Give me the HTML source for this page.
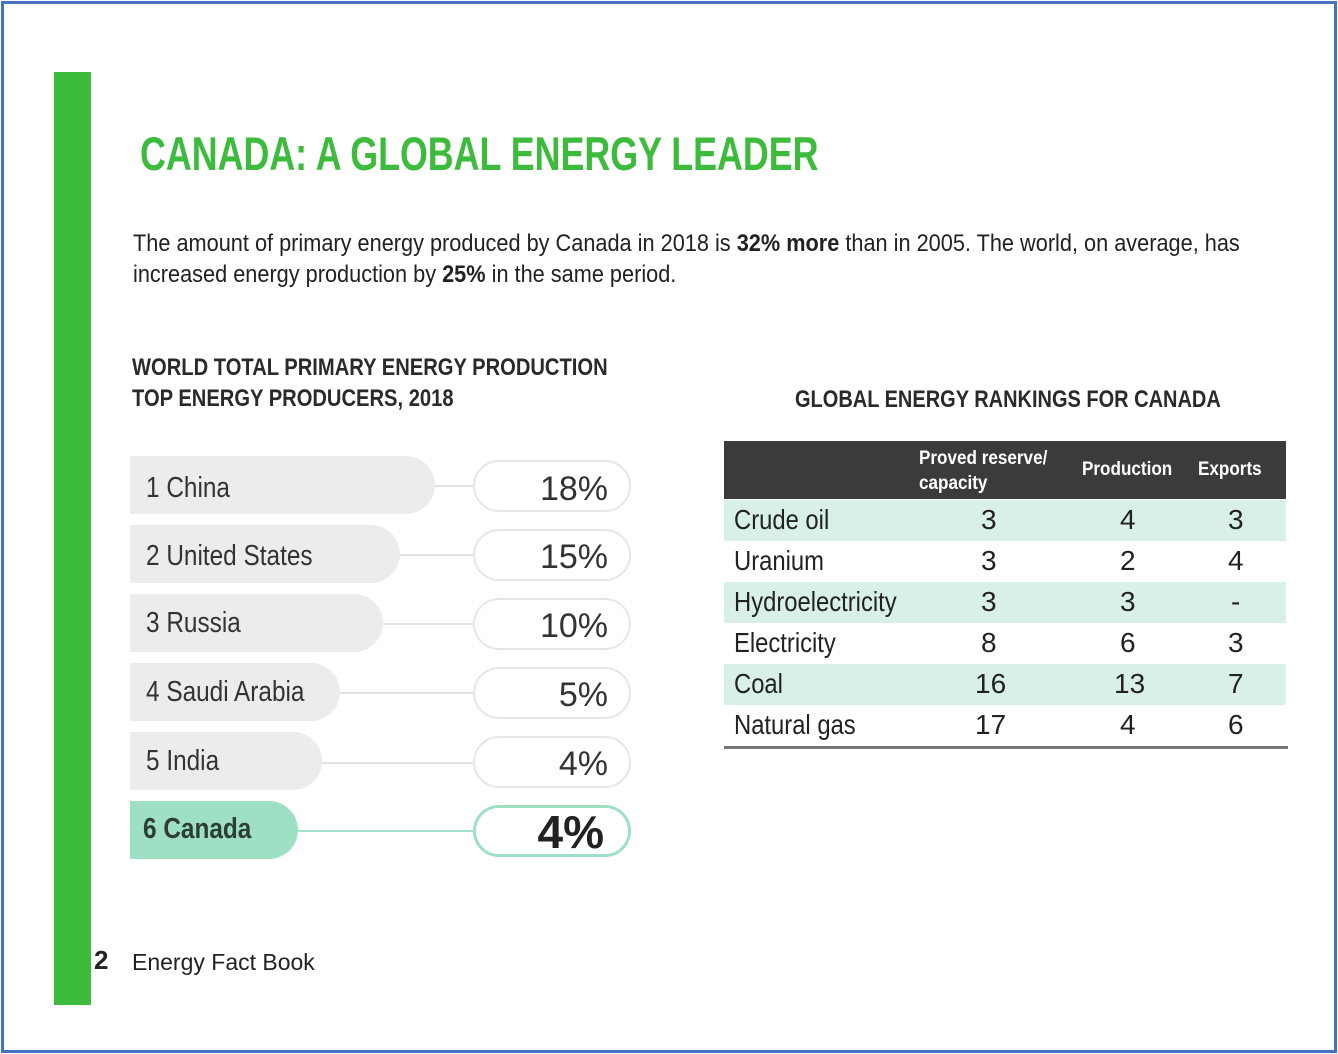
<!DOCTYPE html>
<html><head><style>
body{margin:0;width:1338px;height:1054px;background:#fff;position:relative;overflow:hidden;font-family:"Liberation Sans",sans-serif;color:#333}
.a{position:absolute;white-space:nowrap}
.n{transform:scaleX(0.9);transform-origin:0 0}
.frame{position:absolute;left:1px;top:1px;width:1330px;height:1046px;border:3px solid #4472c4}
.lp{position:absolute;left:130px;height:58px;background:#ececec;border-radius:0 29px 29px 0}
.rp{position:absolute;left:473px;width:154px;height:48px;border:2px solid #e6e6e6;border-radius:26px;background:#fff}
.ln{position:absolute;height:2px;background:#e2e2e2}
.lt{position:absolute;left:146px;font-size:29px;color:#333;white-space:nowrap;transform:scaleX(0.84);transform-origin:0 0}
.pc{position:absolute;right:730px;font-size:34px;color:#333}
.tr{position:absolute;left:724px;width:562px;height:41px}
.tr span{position:absolute;top:4px;font-size:28px;color:#222}
.tr span:first-child{transform:scaleX(0.85);transform-origin:0 0;white-space:nowrap}
</style></head><body>
<div class="frame"></div>
<div class="a" style="left:54px;top:72px;width:37px;height:933px;background:#3cbb3c"></div>
<div class="a" style="left:140px;top:126px;font-size:47px;font-weight:bold;color:#3cbb3c;transform:scaleX(0.762);transform-origin:0 0">CANADA: A GLOBAL ENERGY LEADER</div>
<div class="a" style="left:133px;top:228px;font-size:24px;line-height:31px;color:#222;transform:scaleX(0.905);transform-origin:0 0">The amount of primary energy produced by Canada in 2018 is <b>32% more</b> than in 2005. The world, on average, has<br>increased energy production by <b>25%</b> in the same period.</div>
<div class="a" style="left:132px;top:352px;font-size:24px;font-weight:bold;line-height:31px;color:#2a2a2a;transform:scaleX(0.84);transform-origin:0 0">WORLD TOTAL PRIMARY ENERGY PRODUCTION<br>TOP ENERGY PRODUCERS, 2018</div>
<div class="a" style="left:795px;top:386px;font-size:24px;font-weight:bold;color:#2a2a2a;transform:scaleX(0.833);transform-origin:0 0">GLOBAL ENERGY RANKINGS FOR CANADA</div>

<div class="lp" style="top:456px;width:305px"></div><div class="ln" style="top:485px;left:435px;width:40px"></div><div class="rp" style="top:460px"></div><div class="lt" style="top:472px">1 China</div><div class="pc" style="top:470px">18%</div>
<div class="lp" style="top:525px;width:270px"></div><div class="ln" style="top:554px;left:400px;width:75px"></div><div class="rp" style="top:529px"></div><div class="lt" style="top:540px">2 United States</div><div class="pc" style="top:538px">15%</div>
<div class="lp" style="top:594px;width:253px"></div><div class="ln" style="top:623px;left:383px;width:92px"></div><div class="rp" style="top:598px"></div><div class="lt" style="top:607px">3 Russia</div><div class="pc" style="top:607px">10%</div>
<div class="lp" style="top:663px;width:210px"></div><div class="ln" style="top:692px;left:340px;width:135px"></div><div class="rp" style="top:667px"></div><div class="lt" style="top:676px">4 Saudi Arabia</div><div class="pc" style="top:676px">5%</div>
<div class="lp" style="top:732px;width:192px"></div><div class="ln" style="top:762px;left:322px;width:153px"></div><div class="rp" style="top:736px"></div><div class="lt" style="top:745px">5 India</div><div class="pc" style="top:745px">4%</div>
<div class="lp" style="top:801px;width:168px;background:#9ee0c4"></div><div class="ln" style="top:830px;left:298px;width:177px;background:#a6e0c8"></div><div class="rp" style="top:805px;border:3px solid #9ee0c4;width:152px;height:46px"></div><div class="lt" style="top:813px;left:143px;font-weight:bold;color:#2c3e36">6 Canada</div><div class="pc" style="top:805px;right:734px;font-size:46px;font-weight:bold;color:#222">4%</div>

<div class="a" style="left:724px;top:441px;width:562px;height:58px;background:#3b3b3b"></div>
<div class="a n" style="left:919px;top:446px;font-size:19px;line-height:25px;color:#fff;font-weight:bold">Proved reserve/<br>capacity</div>
<div class="a n" style="left:1082px;top:459px;font-size:19px;color:#fff;font-weight:bold">Production</div>
<div class="a n" style="left:1198px;top:459px;font-size:19px;color:#fff;font-weight:bold">Exports</div>

<div class="tr" style="top:500px;background:#d8f0e9"><span style="left:10px">Crude oil</span><span style="left:257px">3</span><span style="left:396px">4</span><span style="left:504px">3</span></div>
<div class="tr" style="top:541px"><span style="left:10px">Uranium</span><span style="left:257px">3</span><span style="left:396px">2</span><span style="left:504px">4</span></div>
<div class="tr" style="top:582px;background:#d8f0e9"><span style="left:10px">Hydroelectricity</span><span style="left:257px">3</span><span style="left:396px">3</span><span style="left:507px">-</span></div>
<div class="tr" style="top:623px"><span style="left:10px">Electricity</span><span style="left:257px">8</span><span style="left:396px">6</span><span style="left:504px">3</span></div>
<div class="tr" style="top:664px;background:#d8f0e9"><span style="left:10px">Coal</span><span style="left:251px">16</span><span style="left:390px">13</span><span style="left:504px">7</span></div>
<div class="tr" style="top:705px"><span style="left:10px">Natural gas</span><span style="left:251px">17</span><span style="left:396px">4</span><span style="left:504px">6</span></div>
<div class="a" style="left:724px;top:746px;width:564px;height:3px;background:#777"></div>

<div class="a" style="left:94px;top:945px;font-size:26px;font-weight:bold;color:#222">2</div>
<div class="a" style="left:132px;top:949px;font-size:23px;color:#222">Energy Fact Book</div>
</body></html>
